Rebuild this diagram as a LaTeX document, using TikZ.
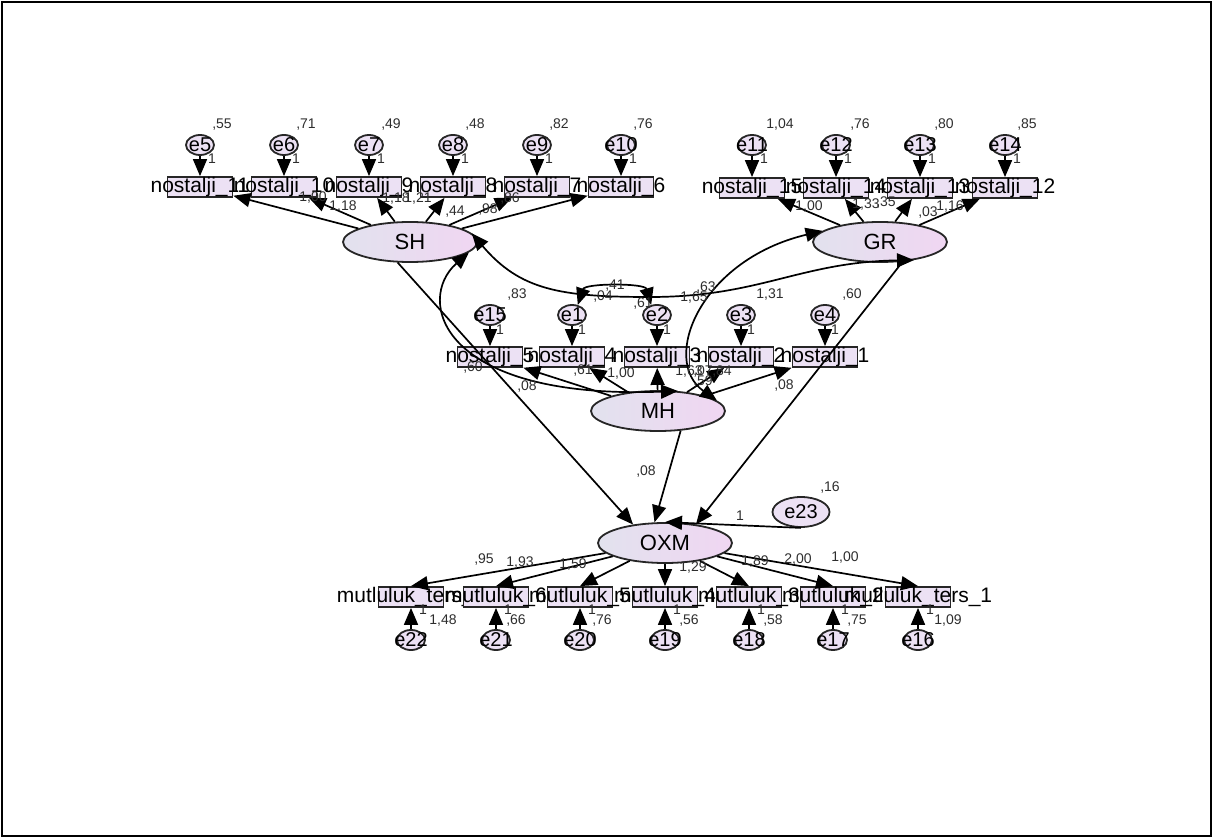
\documentclass[tikz,border=0pt]{standalone}
\usepackage{fontspec}
\setmainfont{Liberation Sans}
\usetikzlibrary{arrows.meta,shapes.geometric}

\definecolor{lvleft}{RGB}{226,226,238}
\definecolor{lvright}{RGB}{240,214,242}
\definecolor{lvfill}{RGB}{236,225,244}
\definecolor{lvtext}{RGB}{45,45,45}

\tikzset{
    latent/.style={ellipse,draw=black!85,line width=0.9pt,left color=lvleft,right color=lvright,
        minimum width=67pt,minimum height=20pt,inner sep=0pt,font=\fontsize{11}{12}\selectfont},
    errc/.style={ellipse,draw=black!85,line width=0.9pt,fill=lvfill,minimum width=14pt,
        minimum height=10pt,inner sep=0pt,font=\fontsize{10}{11}\selectfont},
    obs/.style={rectangle,draw=black!85,line width=0.9pt,fill=lvfill,minimum width=32.5pt,
        minimum height=10pt,inner sep=0pt,font=\fontsize{10.5}{11}\selectfont},
    num/.style={inner sep=0pt,text=lvtext,font=\fontsize{7}{8}\selectfont},
    reg/.style={-{Triangle[length=8.5pt,width=7pt]},line width=0.85pt},
    cov/.style={{Triangle[length=8.5pt,width=7pt]}-{Triangle[length=8.5pt,width=7pt]},line width=0.85pt}
}

\begin{document}
\begin{tikzpicture}[x=0.5pt,y=-0.5pt]
    \useasboundingbox (0,0) rectangle (1214,839);
    \draw[line width=1pt] (2,2) rectangle (1211,836);

    \node[errc] (e5) at (200,145) {\makebox[0pt]{e5}};
    \node[errc] (e6) at (284,145) {\makebox[0pt]{e6}};
    \node[errc] (e7) at (369,145) {\makebox[0pt]{e7}};
    \node[errc] (e8) at (453,145) {\makebox[0pt]{e8}};
    \node[errc] (e9) at (537,145) {\makebox[0pt]{e9}};
    \node[errc] (e10) at (621,145) {\makebox[0pt]{e10}};
    \node[errc] (e11) at (752,145) {\makebox[0pt]{e11}};
    \node[errc] (e12) at (836,145) {\makebox[0pt]{e12}};
    \node[errc] (e13) at (920,145) {\makebox[0pt]{e13}};
    \node[errc] (e14) at (1005,145) {\makebox[0pt]{e14}};
    \node[obs] (n5) at (200,187) {\makebox[0pt]{nostalji\_11}};
    \node[obs] (n6) at (284,187) {\makebox[0pt]{nostalji\_10}};
    \node[obs] (n7) at (369,187) {\makebox[0pt]{nostalji\_9}};
    \node[obs] (n8) at (453,187) {\makebox[0pt]{nostalji\_8}};
    \node[obs] (n9) at (537,187) {\makebox[0pt]{nostalji\_7}};
    \node[obs] (n10) at (621,187) {\makebox[0pt]{nostalji\_6}};
    \node[obs] (n11) at (752,188) {\makebox[0pt]{nostalji\_15}};
    \node[obs] (n12) at (836,188) {\makebox[0pt]{nostalji\_14}};
    \node[obs] (n13) at (920,188) {\makebox[0pt]{nostalji\_13}};
    \node[obs] (n14) at (1005,188) {\makebox[0pt]{nostalji\_12}};

    \node[errc] (e15) at (490,315) {\makebox[0pt]{e15}};
    \node[errc] (e1) at (572,315) {\makebox[0pt]{e1}};
    \node[errc] (e2) at (657,315) {\makebox[0pt]{e2}};
    \node[errc] (e3) at (741,315) {\makebox[0pt]{e3}};
    \node[errc] (e4) at (825,315) {\makebox[0pt]{e4}};
    \node[obs] (n15) at (490,357) {\makebox[0pt]{nostalji\_5}};
    \node[obs] (n1) at (572,357) {\makebox[0pt]{nostalji\_4}};
    \node[obs] (n2) at (657,357) {\makebox[0pt]{nostalji\_3}};
    \node[obs] (n3) at (741,357) {\makebox[0pt]{nostalji\_2}};
    \node[obs] (n4) at (825,357) {\makebox[0pt]{nostalji\_1}};

    \node[obs] (n22) at (411,597) {\makebox[0pt]{mutluluk\_ters\_7}};
    \node[obs] (n21) at (496,597) {\makebox[0pt]{mutluluk\_6}};
    \node[obs] (n20) at (580,597) {\makebox[0pt]{mutluluk\_5}};
    \node[obs] (n19) at (665,597) {\makebox[0pt]{mutluluk\_4}};
    \node[obs] (n18) at (749,597) {\makebox[0pt]{mutluluk\_3}};
    \node[obs] (n17) at (833,597) {\makebox[0pt]{mutluluk\_2}};
    \node[obs] (n16) at (918,597) {\makebox[0pt]{mutluluk\_ters\_1}};
    \node[errc] (e22) at (411,640) {\makebox[0pt]{e22}};
    \node[errc] (e21) at (496,640) {\makebox[0pt]{e21}};
    \node[errc] (e20) at (580,640) {\makebox[0pt]{e20}};
    \node[errc] (e19) at (665,640) {\makebox[0pt]{e19}};
    \node[errc] (e18) at (749,640) {\makebox[0pt]{e18}};
    \node[errc] (e17) at (833,640) {\makebox[0pt]{e17}};
    \node[errc] (e16) at (918,640) {\makebox[0pt]{e16}};

    \node[latent] (SH) at (410,242) {SH};
    \node[latent] (GR) at (880,242) {GR};
    \node[latent] (MH) at (658,411) {MH};
    \node[latent] (OXM) at (665,543) {OXM};
    \node[errc,minimum width=28.5pt,minimum height=15pt] (e23) at (801,512) {e23};

    \draw[reg] (e5) -- (n5);
    \draw[reg] (e6) -- (n6);
    \draw[reg] (e7) -- (n7);
    \draw[reg] (e8) -- (n8);
    \draw[reg] (e9) -- (n9);
    \draw[reg] (e10) -- (n10);
    \draw[reg] (e11) -- (n11);
    \draw[reg] (e12) -- (n12);
    \draw[reg] (e13) -- (n13);
    \draw[reg] (e14) -- (n14);
    \draw[reg] (e15) -- (n15);
    \draw[reg] (e1) -- (n1);
    \draw[reg] (e2) -- (n2);
    \draw[reg] (e3) -- (n3);
    \draw[reg] (e4) -- (n4);
    \draw[reg] (e22) -- (n22);
    \draw[reg] (e21) -- (n21);
    \draw[reg] (e20) -- (n20);
    \draw[reg] (e19) -- (n19);
    \draw[reg] (e18) -- (n18);
    \draw[reg] (e17) -- (n17);
    \draw[reg] (e16) -- (n16);

    \draw[reg] (SH) -- (n5);
    \draw[reg] (SH) -- (n6);
    \draw[reg] (SH) -- (n7);
    \draw[reg] (SH) -- (n8);
    \draw[reg] (SH) -- (n9);
    \draw[reg] (SH) -- (n10);
    \draw[reg] (GR) -- (n11);
    \draw[reg] (GR) -- (n12);
    \draw[reg] (GR) -- (n13);
    \draw[reg] (GR) -- (n14);
    \draw[reg] (MH) -- (n15);
    \draw[reg] (MH) -- (n1);
    \draw[reg] (MH) -- (n2);
    \draw[reg] (MH) -- (n3);
    \draw[reg] (MH) -- (n4);
    \draw[reg] (OXM) -- (n22.north);
    \draw[reg] (OXM) -- (n21.north);
    \draw[reg] (OXM) -- (n20.north);
    \draw[reg] (OXM) -- (n19.north);
    \draw[reg] (OXM) -- (n18.north);
    \draw[reg] (OXM) -- (n17.north);
    \draw[reg] (OXM) -- (n16.north);

    \draw[reg] (SH.239) -- (OXM.150);
    \draw[reg] (MH.-41) -- (OXM.117);
    \draw[reg] (GR.-41) -- (OXM.31);
    \draw[reg] (e23.south) -- (OXM.north);

    \draw[cov] (SH.8) .. controls (520,290) and (560,297) .. (650,297)
        .. controls (760,297) and (800,262) .. (GR.-28);
    \draw[cov] (SH.-10) .. controls (415,300) and (440,400) .. (MH.45);
    \draw[cov] (GR.169) .. controls (700,260) and (660,360) .. (MH.10);
    \draw[cov] (e1.60) .. controls (585,283) and (645,283) .. (e2.120);

    \path[num] (222,125) node {,55} (306,125) node {,71} (391,125) node {,49}
        (475,125) node {,48} (559,125) node {,82} (643,125) node {,76}
        (780,125) node {1,04} (860,125) node {,76} (944,125) node {,80} (1027,125) node {,85};
    \path[num] (212,159) node {1} (296,159) node {1} (381,159) node {1} (465,159) node {1}
        (549,159) node {1} (633,159) node {1} (764,159) node {1} (848,159) node {1}
        (932,159) node {1} (1017,159) node {1};
    \path[num] (313,198) node {1,00} (343,207) node {1,18} (396,199) node {1,18}
        (418,199) node {1,21} (455,212) node {,44} (488,210) node {,98} (510,199) node {,86};
    \path[num] (809,207) node {1,00} (866,205) node {1,33} (886,203) node {,35}
        (928,213) node {,03} (950,207) node {1,16};

    \path[num] (517,295) node {,83} (615,286) node {,41} (603,297) node {,04}
        (643,304) node {,61} (694,298) node {1,65} (706,288) node {,63}
        (770,295) node {1,31} (852,295) node {,60};
    \path[num] (500,330) node {1} (582,330) node {1} (667,330) node {1}
        (751,330) node {1} (835,330) node {1};
    \path[num] (473,368) node {,60} (583,371) node {,61} (621,374) node {1,00}
        (689,372) node {1,63} (703,372) node {,07} (722,372) node {,84} (703,382) node {,59};
    \path[num] (527,387) node {,08} (784,386) node {,08} (646,472) node {,08}
        (830,488) node {,16} (740,516) node {1};

    \path[num] (484,560) node {,95} (520,563) node {1,93} (573,565) node {1,59}
        (693,568) node {1,29} (755,562) node {1,89} (798,560) node {2,00} (845,558) node {1,00};
    \path[num] (423,610) node {1} (508,610) node {1} (592,610) node {1} (677,610) node {1}
        (761,610) node {1} (845,610) node {1} (930,610) node {1};
    \path[num] (443,621) node {1,48} (516,621) node {,66} (602,621) node {,76}
        (689,621) node {,56} (773,621) node {,58} (857,621) node {,75} (948,621) node {1,09};
\end{tikzpicture}
\end{document}
